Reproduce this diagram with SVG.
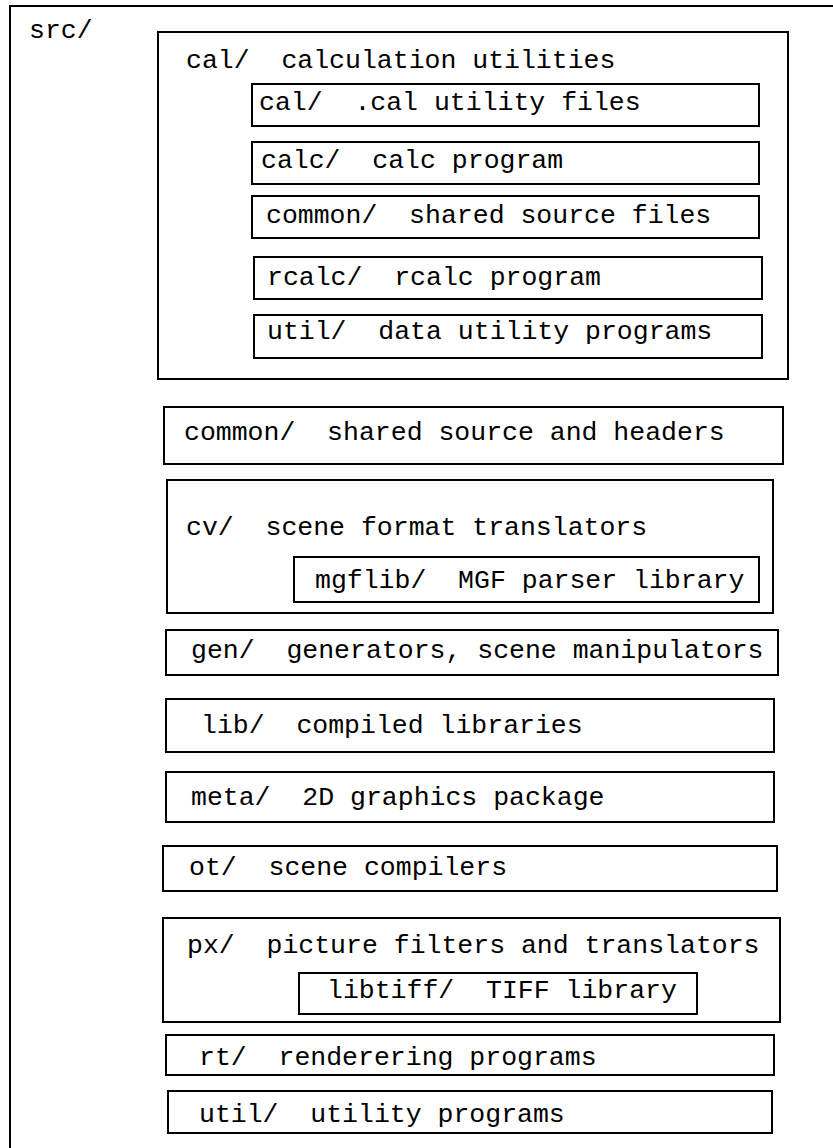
<svg xmlns="http://www.w3.org/2000/svg" width="833" height="1148" viewBox="0 0 833 1148">
<style>
rect{fill:none;stroke:#000;stroke-width:2}
text{font-family:"Liberation Mono","Courier New",monospace;font-size:26.5px;fill:#000;white-space:pre}
</style>
<rect x="0" y="0" width="833" height="1148" style="fill:#fff;stroke:none"/>
<g id="src"><rect x="10" y="6" width="840" height="1160"/><text x="29" y="38">src/</text></g>
<g id="cal"><rect x="158" y="32" width="630" height="347"/><text x="186" y="68">cal/  calculation utilities</text></g>
<g id="cal-cal"><rect x="252" y="84" width="507" height="42"/><text x="259" y="110">cal/  .cal utility files</text></g>
<g id="cal-calc"><rect x="252" y="142" width="507" height="42"/><text x="261" y="168">calc/  calc program</text></g>
<g id="cal-common"><rect x="252" y="196" width="507" height="42"/><text x="266" y="223">common/  shared source files</text></g>
<g id="cal-rcalc"><rect x="254" y="257" width="508" height="42"/><text x="267" y="285">rcalc/  rcalc program</text></g>
<g id="cal-util"><rect x="254" y="315" width="508" height="43"/><text x="267" y="339">util/  data utility programs</text></g>
<g id="common"><rect x="164" y="407" width="619" height="57"/><text x="184" y="440">common/  shared source and headers</text></g>
<g id="cv"><rect x="167" y="480" width="606" height="133"/><text x="186" y="535">cv/  scene format translators</text></g>
<g id="mgflib"><rect x="294" y="557" width="465" height="45"/><text x="315" y="588">mgflib/  MGF parser library</text></g>
<g id="gen"><rect x="166" y="630" width="612" height="45"/><text x="191" y="658">gen/  generators, scene manipulators</text></g>
<g id="lib"><rect x="166" y="699" width="608" height="53"/><text x="201" y="733">lib/  compiled libraries</text></g>
<g id="meta"><rect x="166" y="772" width="608" height="50"/><text x="191" y="805">meta/  2D graphics package</text></g>
<g id="ot"><rect x="163" y="846" width="614" height="45"/><text x="189" y="875">ot/  scene compilers</text></g>
<g id="px"><rect x="163" y="918" width="617" height="104"/><text x="187" y="953">px/  picture filters and translators</text></g>
<g id="libtiff"><rect x="299" y="973" width="398" height="41"/><text x="327" y="998">libtiff/  TIFF library</text></g>
<g id="rt"><rect x="166" y="1035" width="608" height="40"/><text x="199" y="1065">rt/  renderering programs</text></g>
<g id="util"><rect x="168" y="1091" width="604" height="42"/><text x="199" y="1122">util/  utility programs</text></g>
<g id="connectors"></g>
</svg>
